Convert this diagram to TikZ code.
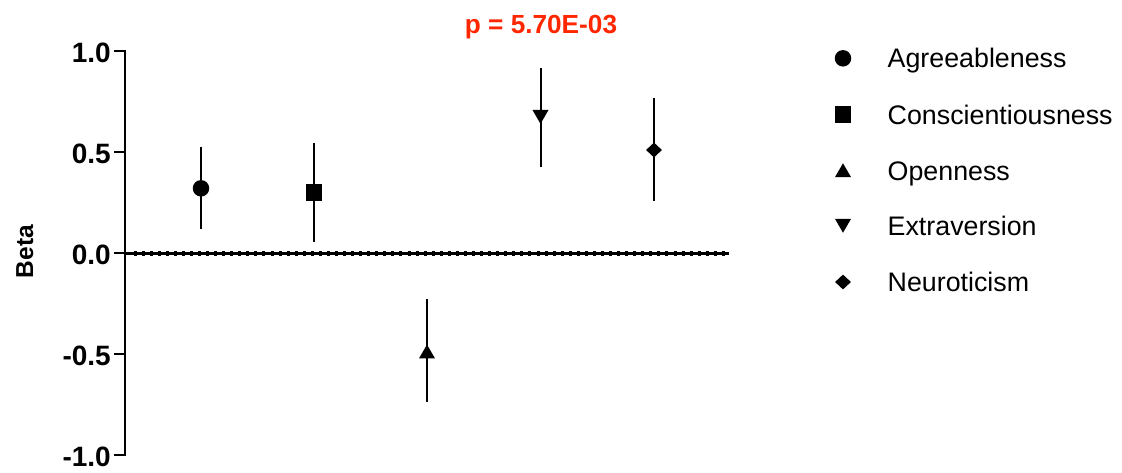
\documentclass[tikz,border=0pt]{standalone}
\usepackage{fontspec}
\setmainfont{Liberation Sans}
\usetikzlibrary{shapes.geometric}
\definecolor{pred}{RGB}{255,38,0}
\tikzset{
  axisline/.style={line width=2pt, black},
  ebar/.style={line width=2pt, black},
  ticklbl/.style={anchor=base east, inner sep=0pt, font=\bfseries\fontsize{28}{30}\selectfont},
  legtext/.style={anchor=base west, inner sep=0pt, font=\fontsize{26.8}{30}\selectfont},
  mcirc/.style={circle, fill=black, draw=none, minimum size=16.5pt, inner sep=0pt},
  msq/.style={rectangle, fill=black, draw=none, minimum size=16.5pt, inner sep=0pt},
  mtriup/.style={regular polygon, regular polygon sides=3, fill=black, draw=none, minimum size=18.5pt, inner sep=0pt},
  mtridown/.style={regular polygon, regular polygon sides=3, shape border rotate=180, fill=black, draw=none, minimum size=18.5pt, inner sep=0pt},
  mdiam/.style={diamond, fill=black, draw=none, minimum width=16pt, minimum height=15pt, inner sep=0pt},
}
\begin{document}
\begin{tikzpicture}[x=1pt,y=-1pt]
\useasboundingbox (0,0) rectangle (1122,472);
% axes
\coordinate (ytop) at (125,50);
\coordinate (ybot) at (125,456);
\coordinate (zl) at (124,253.3);
\coordinate (zr) at (729,253.3);
\draw[axisline] (ytop) -- (ybot);
\draw[line width=2.5pt] (zl) -- (zr);
\foreach \i in {0,...,73} {
  \fill (135+\i*8.06-1.5,251) rectangle ++(3,5);
}
% ticks and labels
\foreach \v/\yy/\lab in {1/50.5/1.0, 2/151.7/0.5, 3/253.3/0.0, 4/353.5/-0.5, 5/455/-1.0} {
  \coordinate (t\v) at (114,\yy);
  \coordinate (tt\v) at (125,\yy);
  \draw[axisline] (t\v) -- (tt\v);
  \node[ticklbl] (tl\v) at (111,\yy+11.5) {\lab};
}
\node[rotate=90, anchor=base, inner sep=0pt, font=\bfseries\fontsize{24.5}{28}\selectfont] (beta) at (33,251.5) {Beta};
% title
\node[anchor=base, inner sep=0pt, text=pred, font=\bfseries\fontsize{26.2}{30}\selectfont] (title) at (541,33) {p = 5.70E-03};
% error bars
\coordinate (a1) at (201,146.7); \coordinate (a2) at (201,229.3);
\coordinate (c1) at (314,143); \coordinate (c2) at (314,241.7);
\coordinate (o1) at (427,299); \coordinate (o2) at (427,401.7);
\coordinate (e1) at (540.5,68); \coordinate (e2) at (540.5,167);
\coordinate (n1) at (654,98.3); \coordinate (n2) at (654,201);
\draw[ebar] (a1) -- (a2);
\draw[ebar] (c1) -- (c2);
\draw[ebar] (o1) -- (o2);
\draw[ebar] (e1) -- (e2);
\draw[ebar] (n1) -- (n2);
% markers
\node[mcirc] (pa) at (201,188.3) {};
\node[msq] (pc) at (314,192.3) {};
\node[mtriup] (po) at (427,353.8) {};
\node[mtridown] (pe) at (540.5,114.6) {};
\node[mdiam] (pn) at (654,150) {};
% legend
\node[mcirc] (la) at (843,58.3) {};
\node[msq] (lc) at (843,114.5) {};
\node[mtriup] (lo) at (843,172.5) {};
\node[mtridown] (le) at (843,223.5) {};
\node[mdiam] (ln) at (843,282) {};
\node[legtext] (ta) at (887.5,58.3+9.5) {Agreeableness};
\node[legtext] (tc) at (887.5,114.5+9.5) {Conscientiousness};
\node[legtext] (to) at (887.5,170.5+9.5) {Openness};
\node[legtext] (te) at (887.5,226+9.5) {Extraversion};
\node[legtext] (tn) at (887.5,282+9.5) {Neuroticism};
\end{tikzpicture}
\end{document}
